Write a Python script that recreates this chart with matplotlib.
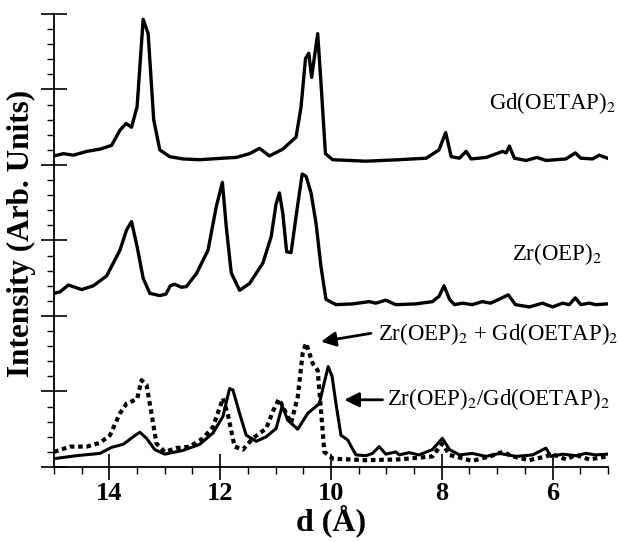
import numpy as np
import matplotlib
matplotlib.use("Agg")
import matplotlib.pyplot as plt
from matplotlib.ticker import MultipleLocator

plt.rcParams['font.family'] = ['Liberation Serif', 'DejaVu Serif']
plt.rcParams['mathtext.fontset'] = 'stix'

# Gd(OETAP)2 (top trace)
d_gd = [15.0, 14.83, 14.65, 14.41, 14.17, 13.96, 13.81, 13.70, 13.60, 13.50, 13.39, 13.30,
        13.20, 13.09, 12.91, 12.67, 12.37, 11.95, 11.71, 11.47, 11.29, 11.11, 10.87, 10.63,
        10.54, 10.46, 10.40, 10.35, 10.24, 10.18, 10.10, 9.97, 9.67, 9.37, 8.77, 8.28,
        8.05, 7.93, 7.83, 7.68, 7.56, 7.47, 7.20, 6.90, 6.84, 6.78, 6.69, 6.48, 6.28,
        6.12, 5.76, 5.59, 5.49, 5.28, 5.16, 5.01]
i_gd = [4.12, 4.15, 4.13, 4.18, 4.21, 4.26, 4.46, 4.55, 4.50, 4.77, 5.93, 5.74,
        4.60, 4.20, 4.11, 4.08, 4.07, 4.09, 4.10, 4.15, 4.22, 4.12, 4.21, 4.37,
        4.77, 5.41, 5.48, 5.16, 5.74, 5.08, 4.15, 4.07, 4.06, 4.05, 4.07, 4.09,
        4.20, 4.43, 4.11, 4.09, 4.18, 4.08, 4.10, 4.18, 4.16, 4.25, 4.09, 4.06, 4.10,
        4.06, 4.08, 4.16, 4.09, 4.08, 4.13, 4.09]

# Zr(OEP)2 (middle trace)
d_zr = [15.0, 14.89, 14.74, 14.50, 14.29, 14.05, 13.81, 13.69, 13.60, 13.50, 13.39, 13.27,
        13.09, 12.98, 12.90, 12.82, 12.70, 12.61, 12.43, 12.22, 12.07, 11.96, 11.89, 11.80,
        11.65, 11.47, 11.23, 11.08, 10.99, 10.93, 10.87, 10.80, 10.72, 10.63, 10.52, 10.45,
        10.36, 10.27, 10.18, 10.09, 9.91, 9.61, 9.31, 9.19, 9.01, 8.83, 8.47, 8.17,
        8.05, 7.96, 7.86, 7.77, 7.63, 7.45, 7.27, 7.12, 6.97, 6.80, 6.67, 6.42, 6.18,
        6.00, 5.82, 5.70, 5.59, 5.49, 5.34, 5.22, 5.01]
i_zr = [2.30, 2.32, 2.41, 2.35, 2.40, 2.53, 2.87, 3.14, 3.25, 2.92, 2.50, 2.30,
        2.27, 2.29, 2.40, 2.42, 2.38, 2.39, 2.56, 2.87, 3.45, 3.77, 3.18, 2.57,
        2.34, 2.43, 2.70, 3.05, 3.49, 3.63, 3.36, 2.85, 2.84, 3.32, 3.88, 3.85,
        3.63, 3.23, 2.65, 2.22, 2.15, 2.16, 2.19, 2.17, 2.21, 2.15, 2.16, 2.19,
        2.26, 2.40, 2.22, 2.15, 2.17, 2.15, 2.19, 2.17, 2.22, 2.28, 2.15, 2.12, 2.17,
        2.12, 2.17, 2.15, 2.24, 2.15, 2.17, 2.15, 2.16]

# Zr(OEP)2/Gd(OETAP)2 (solid, bottom)
d_bi = [15.0, 14.59, 14.17, 13.96, 13.75, 13.57, 13.45, 13.33, 13.18, 13.00, 12.67, 12.37,
        12.13, 11.95, 11.83, 11.77, 11.65, 11.53, 11.35, 11.17, 10.99, 10.88, 10.78, 10.60,
        10.42, 10.21, 10.14, 10.05, 9.98, 9.91, 9.82, 9.70, 9.55, 9.37, 9.25, 9.13,
        9.01, 8.83, 8.77, 8.59, 8.41, 8.17, 7.99, 7.86, 7.68, 7.45, 7.20, 6.96,
        6.66, 6.36, 6.12, 6.03, 5.82, 5.58, 5.40, 5.22, 5.01]
i_bi = [0.11, 0.15, 0.18, 0.26, 0.30, 0.40, 0.46, 0.38, 0.23, 0.17, 0.22, 0.30,
        0.45, 0.67, 1.04, 1.02, 0.71, 0.42, 0.34, 0.40, 0.51, 0.81, 0.62, 0.50,
        0.71, 0.84, 1.06, 1.33, 1.20, 0.84, 0.42, 0.36, 0.16, 0.15, 0.18, 0.27,
        0.17, 0.20, 0.16, 0.19, 0.16, 0.23, 0.38, 0.23, 0.16, 0.18, 0.14, 0.18,
        0.14, 0.16, 0.25, 0.14, 0.17, 0.15, 0.18, 0.16, 0.17]

# Zr(OEP)2 + Gd(OETAP)2 mixture (dotted, bottom)
d_mix = [15.0, 14.71, 14.41, 14.17, 13.99, 13.81, 13.69, 13.50, 13.42, 13.33, 13.24, 13.15,
         13.00, 12.79, 12.55, 12.31, 12.13, 11.95, 11.86, 11.74, 11.59, 11.41, 11.17, 11.04,
         10.94, 10.87, 10.72, 10.60, 10.51, 10.45, 10.33, 10.24, 10.18, 10.12, 9.97, 9.67,
         9.37, 8.77, 8.17, 7.99, 7.86, 7.45, 7.09, 6.90, 6.72, 6.42, 6.12, 6.00,
         5.76, 5.58, 5.34, 5.01]
i_mix = [0.20, 0.27, 0.27, 0.32, 0.42, 0.71, 0.84, 0.90, 1.15, 1.09, 0.71, 0.31,
         0.20, 0.25, 0.27, 0.38, 0.53, 0.91, 0.69, 0.27, 0.23, 0.38, 0.51, 0.75,
         0.90, 0.80, 0.58, 0.93, 1.51, 1.64, 1.37, 1.28, 0.75, 0.20, 0.11, 0.10,
         0.09, 0.10, 0.14, 0.31, 0.16, 0.08, 0.15, 0.20, 0.14, 0.09, 0.14, 0.17,
         0.10, 0.16, 0.10, 0.14]

fig = plt.figure(figsize=(6.19, 5.42), dpi=100)
ax = fig.add_axes([0.0872, 0.1384, 0.895, 0.8358])

ax.plot(d_gd, i_gd, color='black', lw=2.4)
ax.plot(d_zr, i_zr, color='black', lw=2.4)
ax.plot(d_bi, i_bi, color='black', lw=2.2)
ax.plot(d_mix, i_mix, color='black', lw=3.0, linestyle=(0, (1.1, 0.9)))

ax.set_xlim(15, 5)
ax.set_ylim(0, 6)
for s in ['top', 'right']:
    ax.spines[s].set_visible(False)
for s in ['left', 'bottom']:
    ax.spines[s].set_linewidth(1.3)

ax.xaxis.set_major_locator(MultipleLocator(2))
ax.xaxis.set_minor_locator(MultipleLocator(0.5))
ax.yaxis.set_major_locator(MultipleLocator(1))
ax.yaxis.set_minor_locator(MultipleLocator(0.2))
ax.tick_params(which='major', direction='inout', length=19, width=1.2)
ax.tick_params(which='minor', direction='out', length=5, width=1.0)
ax.tick_params(axis='y', labelleft=False)
ax.tick_params(axis='x', which='major', pad=1, labelsize=19)
for t in ax.get_xticklabels():
    t.set_fontweight('bold')

ax.set_xlabel('d (Å)', fontsize=23, fontweight='bold', labelpad=0)
ax.set_ylabel('Intensity (Arb. Units)', fontsize=22.5, fontweight='bold')
ax.yaxis.set_label_coords(-0.032, 0.515)

fs = 16.5
ax.text(7.14, 4.74, 'Gd(OETAP)$_2$', fontsize=fs)
ax.text(6.73, 2.74, 'Zr(OEP)$_2$', fontsize=fs)
ax.text(9.16, 1.68, 'Zr(OEP)$_2$ + Gd(OETAP)$_2$', fontsize=fs)
ax.text(8.98, 0.82, 'Zr(OEP)$_2$/Gd(OETAP)$_2$', fontsize=fs)

arrow = dict(arrowstyle='-|>', color='black', lw=2, mutation_scale=22, shrinkA=0, shrinkB=0)
ax.annotate('', xy=(10.18, 1.66), xytext=(9.28, 1.77), arrowprops=arrow)
ax.annotate('', xy=(9.76, 0.89), xytext=(9.07, 0.89), arrowprops=arrow)

fig.savefig('out.png', dpi=100)
